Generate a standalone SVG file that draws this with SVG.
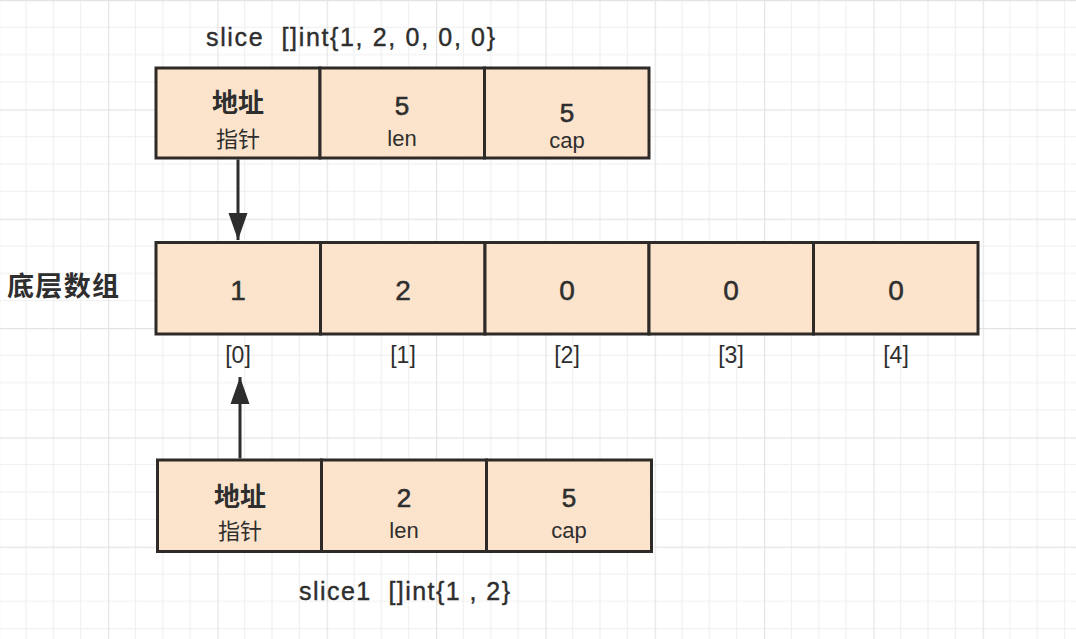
<svg xmlns="http://www.w3.org/2000/svg" width="1076" height="639" viewBox="0 0 1076 639">
  <defs>
    <pattern id="grid" patternUnits="userSpaceOnUse" x="-1.3" y="0" width="109.33" height="109.33">
      <g stroke="#efefef" stroke-width="1.2" fill="none">
        <line x1="27.33" y1="0" x2="27.33" y2="109.33"/>
        <line x1="54.67" y1="0" x2="54.67" y2="109.33"/>
        <line x1="82" y1="0" x2="82" y2="109.33"/>
        <line x1="0" y1="27.33" x2="109.33" y2="27.33"/>
        <line x1="0" y1="54.67" x2="109.33" y2="54.67"/>
        <line x1="0" y1="82" x2="109.33" y2="82"/>
      </g>
      <g stroke="#e4e4e4" stroke-width="1.4" fill="none">
        <line x1="0.5" y1="0" x2="0.5" y2="109.33"/>
        <line x1="0" y1="0.5" x2="109.33" y2="0.5"/>
      </g>
    </pattern>
    <marker id="arrow" markerUnits="userSpaceOnUse" markerWidth="28" markerHeight="20" refX="27" refY="10" viewBox="0 0 28 20" orient="auto">
      <path d="M0,0.5 L27,10 L0,19.5 Z" fill="#2d2d2d"/>
    </marker>
    <style>
      .cell { fill: #fce4cc; stroke: #2e2a27; stroke-width: 3; }
      .t { font-family: "Liberation Sans", "Noto Sans CJK SC", sans-serif; fill: #2e2e2e; text-anchor: middle; }
      .num { font-size: 26px; stroke: #2e2e2e; stroke-width: 0.6; }
      .anum { font-size: 28px; stroke: #2e2e2e; stroke-width: 0.5; }
      .sub { font-size: 22px; }
      .cjkb { font-family: "Noto Sans CJK SC", "Liberation Sans", sans-serif; font-size: 26px; font-weight: 700; }
      .cjk { font-family: "Noto Sans CJK SC", "Liberation Sans", sans-serif; font-size: 22px; }
      .idx { font-size: 23px; }
      .title { font-size: 25px; text-anchor: start; stroke: #2e2e2e; stroke-width: 0.4; white-space: pre; }
      .conn { stroke: #2d2d2d; stroke-width: 3; fill: none; }
    </style>
  </defs>

  <rect x="0" y="0" width="1076" height="639" fill="#ffffff"/>
  <rect x="0" y="0" width="1076" height="639" fill="url(#grid)"/>

  <g id="slice">
    <text class="t title" x="206" y="46" xml:space="preserve" textLength="289" lengthAdjust="spacing">slice  []int{1, 2, 0, 0, 0}</text>
    <rect class="cell" x="156" y="68" width="164" height="90"/>
    <rect class="cell" x="320" y="68" width="164.5" height="90"/>
    <rect class="cell" x="484.5" y="68" width="164.5" height="90"/>
    <text class="t cjkb" x="238" y="112">地址</text>
    <text class="t cjk" x="238" y="147">指针</text>
    <text class="t num" x="402" y="115">5</text>
    <text class="t sub" x="402" y="146">len</text>
    <text class="t num" x="567" y="122">5</text>
    <text class="t sub" x="567" y="148">cap</text>
  </g>

  <g id="array">
    <text class="t cjkb" x="7" y="296" style="text-anchor:start;font-size:27px" textLength="112" lengthAdjust="spacing">底层数组</text>
    <rect class="cell" x="156" y="242.5" width="164.5" height="91.5"/>
    <rect class="cell" x="320.5" y="242.5" width="164.5" height="91.5"/>
    <rect class="cell" x="485" y="242.5" width="164" height="91.5"/>
    <rect class="cell" x="649" y="242.5" width="164.5" height="91.5"/>
    <rect class="cell" x="813.5" y="242.5" width="164.5" height="91.5"/>
    <text class="t anum" x="238" y="300">1</text>
    <text class="t anum" x="403" y="300">2</text>
    <text class="t anum" x="567" y="300">0</text>
    <text class="t anum" x="731" y="300">0</text>
    <text class="t anum" x="896" y="300">0</text>
    <text class="t idx" x="238" y="363">[0]</text>
    <text class="t idx" x="403" y="363">[1]</text>
    <text class="t idx" x="567" y="363">[2]</text>
    <text class="t idx" x="731" y="363">[3]</text>
    <text class="t idx" x="896" y="363">[4]</text>
  </g>

  <g id="slice1">
    <rect class="cell" x="157.5" y="460" width="164" height="91.5"/>
    <rect class="cell" x="321.5" y="460" width="165" height="91.5"/>
    <rect class="cell" x="486.5" y="460" width="165" height="91.5"/>
    <text class="t cjkb" x="240" y="506">地址</text>
    <text class="t cjk" x="240" y="539">指针</text>
    <text class="t num" x="404" y="507">2</text>
    <text class="t sub" x="404" y="538">len</text>
    <text class="t num" x="569" y="507">5</text>
    <text class="t sub" x="569" y="538">cap</text>
    <text class="t title" x="299" y="600" xml:space="preserve" textLength="211" lengthAdjust="spacing">slice1  []int{1 , 2}</text>
  </g>

  <g id="connectors">
    <line class="conn" x1="238" y1="159.5" x2="238" y2="240" marker-end="url(#arrow)"/>
    <line class="conn" x1="240" y1="458.5" x2="240" y2="377" marker-end="url(#arrow)"/>
  </g>
</svg>
